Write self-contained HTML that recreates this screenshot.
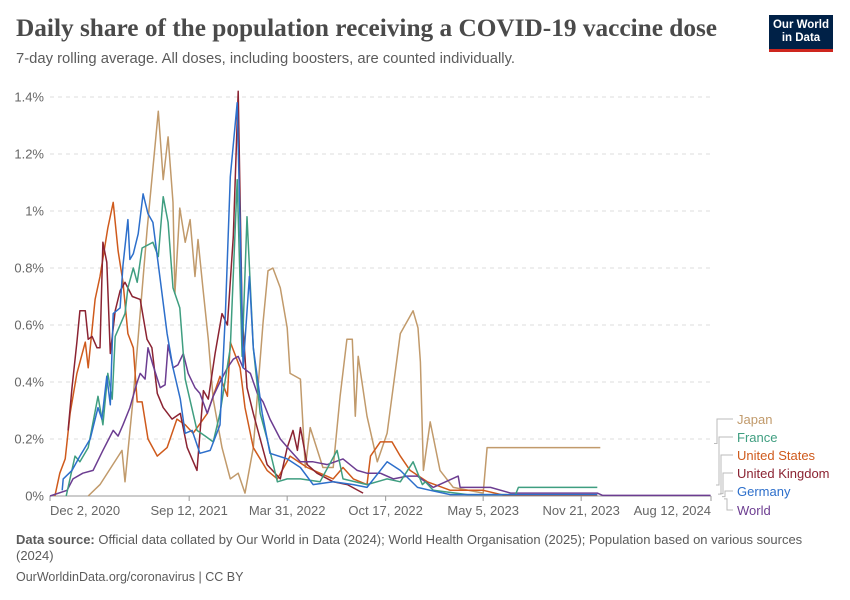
<!DOCTYPE html>
<html><head><meta charset="utf-8"><style>
body{margin:0;background:#fff;font-family:"Liberation Sans",sans-serif;}
#wrap{position:relative;width:850px;height:600px;overflow:hidden;}
.t{position:absolute;white-space:nowrap;}
</style></head><body>
<div id="wrap">
<div class="t" style="left:16px;top:14px;font-family:'Liberation Serif',serif;font-weight:bold;font-size:25.3px;color:#4a4a4a;">Daily share of the population receiving a COVID-19 vaccine dose</div>
<div class="t" style="left:16px;top:51px;font-size:14.8px;color:#5b5b5b;">7-day rolling average. All doses, including boosters, are counted individually.</div>
<div style="position:absolute;left:769px;top:15px;width:64px;height:37px;background:#002147;border-bottom:3px solid #ce261e;box-sizing:border-box;color:#fff;font-size:11.5px;font-weight:bold;line-height:13px;text-align:center;padding-top:4px;">Our World<br>in Data</div>
<svg id="chart" width="850" height="600" style="position:absolute;left:0;top:0"></svg>
<div class="t" style="left:16px;top:532px;font-size:13px;color:#5b5b5b;line-height:16px;white-space:normal;width:800px;"><b>Data source:</b> Official data collated by Our World in Data (2024); World Health Organisation (2025); Population based on various sources<br>(2024)</div>
<div class="t" style="left:16px;top:570px;font-size:12.5px;color:#5b5b5b;">OurWorldinData.org/coronavirus | CC BY</div>
</div>
<script>
const yTicks=[0,0.2,0.4,0.6,0.8,1,1.2,1.4];
const yTickLabels=["0%","0.2%","0.4%","0.6%","0.8%","1%","1.2%","1.4%"];
const xTicks=[0,284,484,685,884,1084,1349];
const xTickLabels=["Dec 2, 2020","Sep 12, 2021","Mar 31, 2022","Oct 17, 2022","May 5, 2023","Nov 21, 2023","Aug 12, 2024"];
const seriesNames=["Japan","France","United States","United Kingdom","Germany","World"];
const japanDays=[78,102,147,153,170,198,221,231,241,251,255,265,276,286,296,302,312,323,333,351,368,384,398,415,435,445,455,470,484,490,511,521,531,557,578,592,606,617,623,629,647,668,688,715,741,751,756,762,776,796,823,884,892,1123];
const japanVals=[0,0.04,0.16,0.05,0.35,0.93,1.35,1.11,1.26,1.03,0.71,1.01,0.89,0.97,0.77,0.9,0.73,0.55,0.34,0.17,0.06,0.08,0.01,0.17,0.61,0.79,0.8,0.73,0.59,0.43,0.41,0.1,0.24,0.1,0.1,0.35,0.55,0.55,0.28,0.49,0.28,0.12,0.22,0.57,0.65,0.59,0.47,0.09,0.26,0.09,0.03,0.01,0.17,0.17];
const franceDays=[33,51,61,78,98,108,118,127,133,153,159,170,178,188,210,221,231,241,251,265,276,300,317,333,347,368,382,392,402,415,429,443,464,484,511,551,586,598,647,688,715,741,760,766,782,852,950,956,1117];
const franceVals=[0,0.14,0.12,0.17,0.35,0.25,0.43,0.34,0.56,0.64,0.73,0.8,0.75,0.87,0.89,0.84,1.05,0.96,0.73,0.66,0.41,0.23,0.21,0.19,0.29,0.52,1.11,0.49,0.98,0.52,0.29,0.2,0.05,0.06,0.06,0.05,0.16,0.06,0.04,0.06,0.05,0.12,0.04,0.05,0.02,0.005,0.005,0.03,0.03];
const usDays=[10,20,31,41,55,72,78,92,102,118,129,139,149,159,170,178,188,200,219,239,259,276,292,321,347,362,368,388,398,415,443,464,490,525,551,578,598,619,647,654,674,698,715,735,770,817,884,925,1117];
const usVals=[0,0.08,0.13,0.29,0.43,0.54,0.45,0.69,0.77,0.94,1.03,0.86,0.75,0.57,0.52,0.33,0.33,0.2,0.14,0.17,0.27,0.25,0.22,0.29,0.42,0.35,0.54,0.45,0.31,0.17,0.09,0.06,0.14,0.1,0.08,0.06,0.1,0.06,0.04,0.14,0.19,0.19,0.14,0.09,0.05,0.02,0.02,0.003,0.003];
const ukDays=[37,45,55,61,72,78,86,96,102,108,116,123,133,143,153,168,184,198,208,219,231,249,266,280,300,313,323,337,351,362,374,384,392,402,415,443,470,484,496,505,511,525,545,578,607,639];
const ukVals=[0.23,0.38,0.54,0.65,0.65,0.55,0.56,0.52,0.52,0.89,0.82,0.5,0.65,0.72,0.75,0.7,0.69,0.55,0.52,0.36,0.31,0.27,0.29,0.17,0.09,0.37,0.34,0.5,0.64,0.6,0.91,1.42,0.64,0.38,0.29,0.11,0.06,0.17,0.23,0.16,0.24,0.11,0.08,0.05,0.04,0.01];
const deDays=[25,27,45,61,82,98,106,116,123,129,143,149,159,163,170,180,190,200,210,225,239,251,266,276,290,306,327,347,358,368,382,388,394,407,415,433,449,484,511,537,578,619,647,688,715,750,776,817,1117];
const deVals=[0.02,0.06,0.09,0.14,0.2,0.31,0.27,0.42,0.32,0.64,0.66,0.81,0.97,0.83,0.85,0.92,1.06,0.99,0.96,0.76,0.57,0.45,0.34,0.22,0.23,0.15,0.16,0.25,0.64,1.12,1.38,0.95,0.45,0.77,0.52,0.29,0.15,0.13,0.1,0.04,0.05,0.04,0.03,0.12,0.09,0.03,0.02,0.005,0.005];
const worldDays=[0,35,47,67,88,108,129,139,149,163,178,184,194,200,210,225,235,241,251,261,272,282,296,306,321,333,347,362,374,384,394,409,423,435,449,470,490,511,537,566,598,627,647,674,701,729,750,782,833,837,899,940,1117,1128,1348];
const worldVals=[0,0.02,0.06,0.08,0.09,0.16,0.23,0.21,0.25,0.31,0.4,0.43,0.41,0.52,0.46,0.38,0.39,0.53,0.45,0.46,0.5,0.43,0.38,0.36,0.29,0.35,0.4,0.45,0.48,0.49,0.45,0.43,0.36,0.33,0.27,0.2,0.16,0.12,0.12,0.11,0.13,0.09,0.08,0.08,0.06,0.07,0.07,0.03,0.07,0.03,0.03,0.01,0.01,0.002,0.002];
const seriesDays=[japanDays,franceDays,usDays,ukDays,deDays,worldDays];
const seriesVals=[japanVals,franceVals,usVals,ukVals,deVals,worldVals];
const colors=["#c19a6b","#3f9e80","#cf5a1c","#8b2332","#2d6fcb","#6c3d91"];
const drawOrder=[0,2,3,5,1,4];

const X0=50,X1=711,Y0=496,Y1=97;
function xs(d){return X0+(X1-X0)*d/1349;}
function ys(v){return Y0-(Y0-Y1)*v/1.4;}
const svg=document.getElementById('chart');
const NS="http://www.w3.org/2000/svg";
function mk(tag,attrs){const e=document.createElementNS(NS,tag);for(const k in attrs)e.setAttribute(k,attrs[k]);svg.appendChild(e);return e;}

yTicks.forEach((v,i)=>{
  if(v>0){const g=mk('line',{x1:X0,x2:X1,y1:ys(v),y2:ys(v),stroke:'#dddddd','stroke-dasharray':'4,4'});
  
  }
  const t=mk('text',{x:44,y:ys(v)+4.5,'text-anchor':'end','font-size':13,fill:'#666','font-family':'Liberation Sans, sans-serif'});
  t.textContent=yTickLabels[i];
  
  
});
const ax=mk('line',{x1:X0,x2:X1,y1:Y0,y2:Y0,stroke:'#999'});


xTicks.forEach((d,i)=>{
  const tk=mk('line',{x1:xs(d),x2:xs(d),y1:Y0,y2:Y0+5,stroke:'#999'});
  
  
  const anchor=i===0?'start':(i===xTicks.length-1?'end':'middle');
  const t=mk('text',{x:xs(d),y:Y0+19,'text-anchor':anchor,'font-size':13,fill:'#666','font-family':'Liberation Sans, sans-serif'});
  t.textContent=xTickLabels[i];
  
  
});
drawOrder.forEach(s=>{
  const pts=seriesDays[s].map((d,j)=>xs(d).toFixed(1)+','+ys(seriesVals[s][j]).toFixed(1)).join(' ');
  const p=mk('polyline',{points:pts,fill:'none',stroke:colors[s],'stroke-width':1.5,'stroke-linejoin':'round'});
  
  
});
const legY=[424,442,460,478,496,515];
seriesNames.forEach((n,i)=>{
  const last=seriesVals[i][seriesVals[i].length-1];
  const ey=ys(last)-4+i*1.5;
  const bx=717+i*2;
  const c=mk('polyline',{points:`${bx-3},${ey} ${bx},${ey} ${bx},${legY[i]-5} 733,${legY[i]-5}`,fill:'none',stroke:'#bbb','stroke-width':1});
  
  
  const t=mk('text',{x:737,y:legY[i],'font-size':13,fill:colors[i],'font-family':'Liberation Sans, sans-serif'});
  t.textContent=n;
  
  
});
</script>
</body></html>
